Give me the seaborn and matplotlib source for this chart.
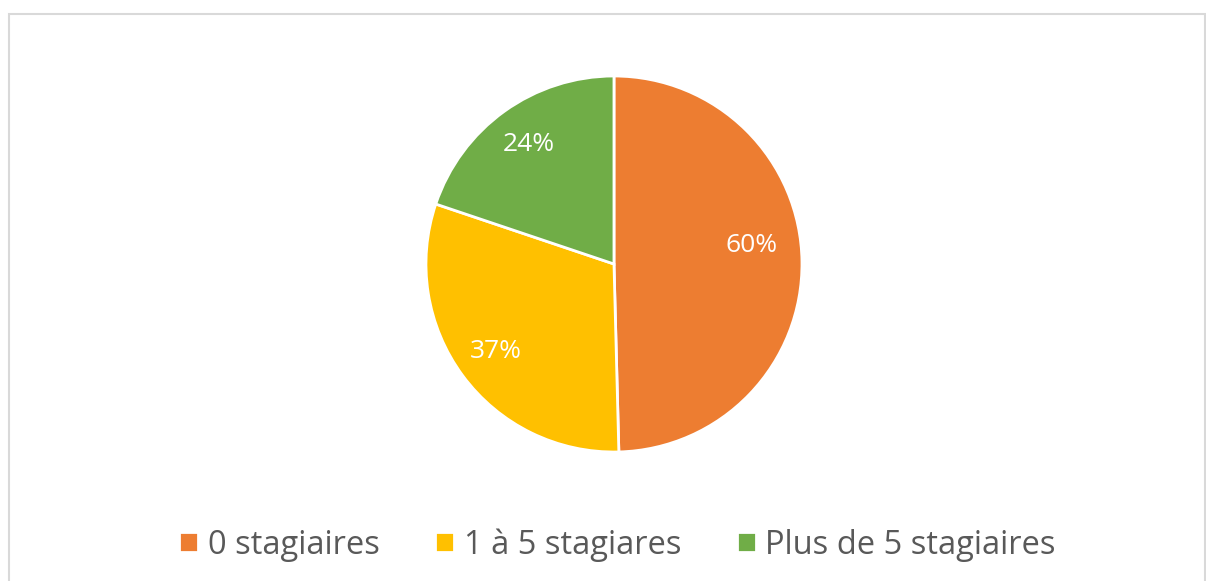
import matplotlib
matplotlib.use("Agg")
import matplotlib.pyplot as plt
import seaborn as sns
from matplotlib.patches import Rectangle

labels = ["0 stagiaires", "1 à 5 stagiares", "Plus de 5 stagiaires"]
values = [60, 37, 24]
colors = ["#ED7D31", "#FFC000", "#70AD47"]

sns.set_theme(style="white")
plt.rcParams["font.family"] = ["Open Sans", "DejaVu Sans"]

fig = plt.figure(figsize=(12.06, 5.81), dpi=100)
fig.patches.append(Rectangle((9 / 1206, -0.01), 1196 / 1206, 1 - 14 / 581 + 0.01,
                             transform=fig.transFigure, fill=False,
                             edgecolor="#D9D9D9", linewidth=1.5))

ax = fig.add_axes([0.3532, 0.2220, 0.3118, 0.6472])
total = sum(values)
wedges, _, autotexts = ax.pie(
    values, colors=colors, startangle=90, counterclock=False, radius=1,
    autopct=lambda p: f"{round(p * total / 100)}%", pctdistance=0.78,
    wedgeprops=dict(edgecolor="white", linewidth=2),
    textprops=dict(color="white", fontsize=19),
)
# Excel nudges the big slice's label a bit upward
autotexts[0].set_position((0.73, 0.10))
ax.set_xlim(-1, 1)
ax.set_ylim(-1, 1)
ax.set_aspect("equal")

fig.legend(wedges, labels, loc="center", bbox_to_anchor=(0.512, 1 - 545 / 581),
           ncol=3, frameon=False, fontsize=23.5, labelcolor="#595959",
           handlelength=0.58, handleheight=0.58, handletextpad=0.3,
           columnspacing=1.7)

fig.savefig("out.png", dpi=100)
